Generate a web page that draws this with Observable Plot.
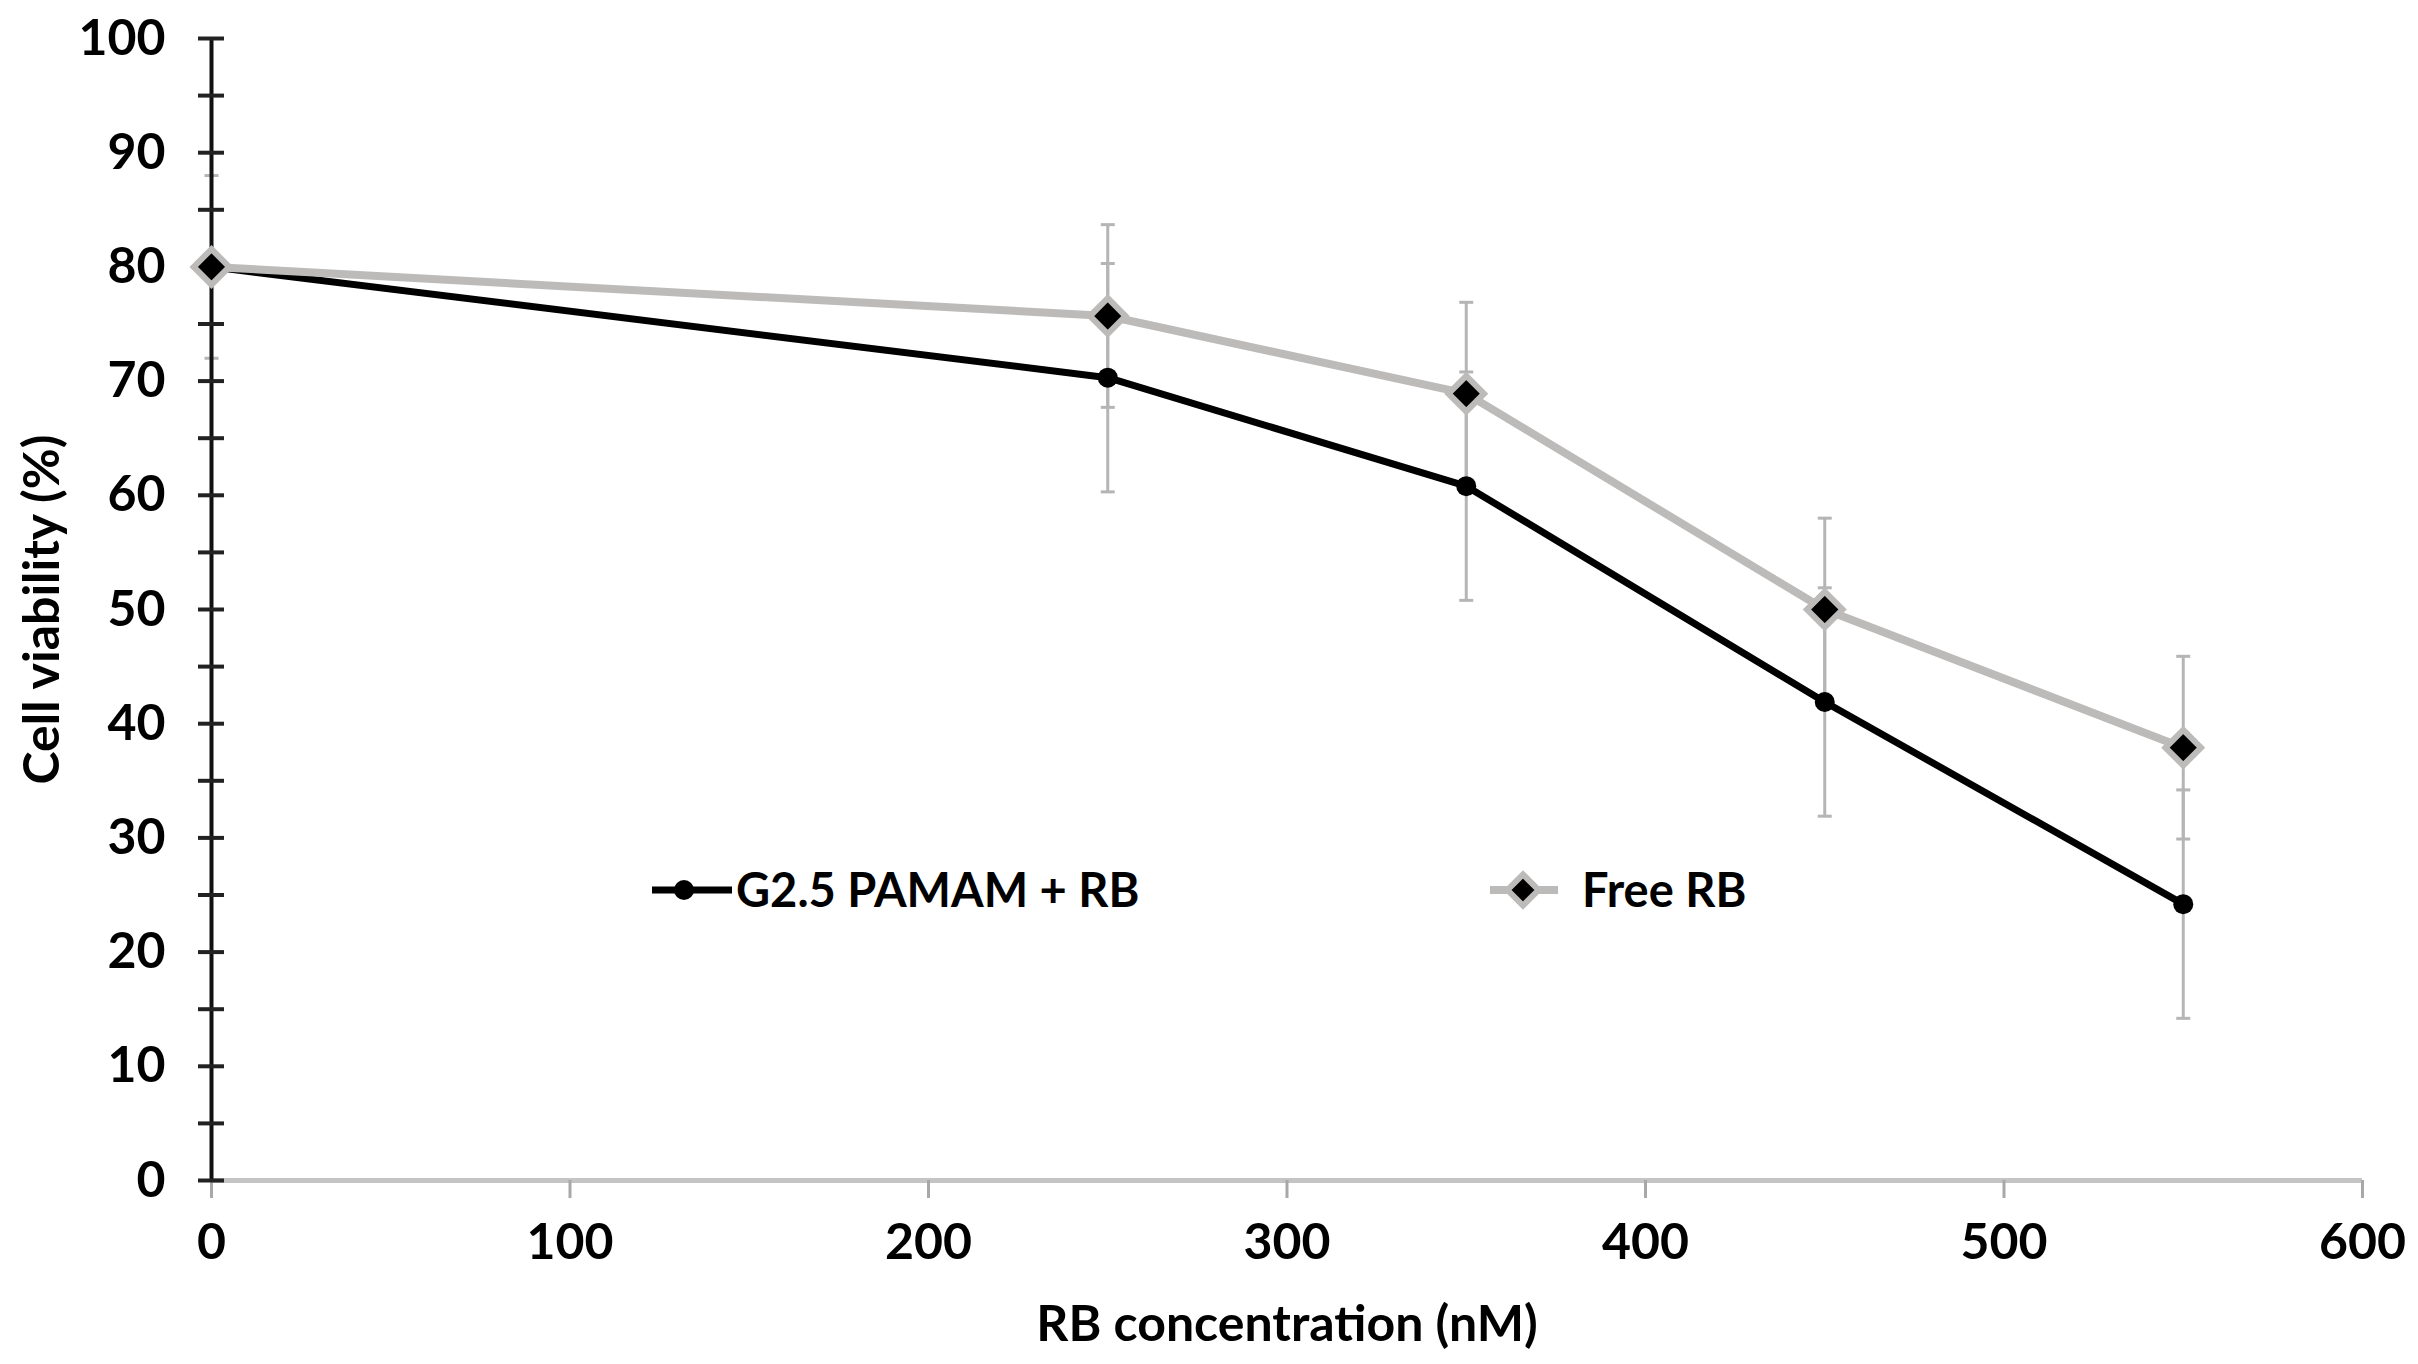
<!DOCTYPE html>
<html>
<head>
<meta charset="utf-8">
<script src="https://cdn.jsdelivr.net/npm/d3@7"></script>
<script src="https://cdn.jsdelivr.net/npm/@observablehq/plot@0.6"></script>
<style>
  body { margin: 0; background: #fff; }
  #chart { position: relative; width: 2418px; height: 1364px; }
  #legend { position: absolute; left: 0; top: 0; pointer-events: none; }
</style>
</head>
<body>
<div id="chart"></div>
<script>
const concentrations = [0, 250, 350, 450, 550]
const pamamViability = [80, 70.3, 60.8, 41.9, 24.2]
const pamamError = [10, 10, 10, 10, 10]
const freeViability = [80, 75.7, 68.9, 50, 37.9]
const freeError = [8, 8, 8, 8, 8]
const xTicks = [0, 100, 200, 300, 400, 500, 600]
const yTicks = [0, 10, 20, 30, 40, 50, 60, 70, 80, 90, 100]
const yMinorTicks = d3.range(0, 101, 5)

const pamamLabel = 'G2.5 PAMAM + RB'
const freeLabel = 'Free RB'

const lineGray = '#bdbbba'
const errGray = '#b5b5b5'

const pamam = concentrations.map((c, i) => ({x: c, y: pamamViability[i], lo: pamamViability[i] - pamamError[i], hi: pamamViability[i] + pamamError[i]}))
const free = concentrations.map((c, i) => ({x: c, y: freeViability[i], lo: freeViability[i] - freeError[i], hi: freeViability[i] + freeError[i]}))

// short horizontal cap for the error bars
const capSymbol = {
  draw(context) {
    context.moveTo(-7, 0)
    context.lineTo(7, 0)
  }
}

const font = 'Lato, "Open Sans", sans-serif'

let chart = Plot.plot({
  width: 2418,
  height: 1364,
  marginLeft: 211,
  marginRight: 56,
  marginTop: 38,
  marginBottom: 184,
  style: {fontFamily: font, fontSize: '50px', fontWeight: 700, color: '#000', background: '#fff'},
  x: {domain: [0, 600]},
  y: {domain: [0, 100]},
  marks: [
    // error bars
    Plot.ruleX(free, {x: 'x', y1: 'lo', y2: 'hi', stroke: errGray, strokeWidth: 3}),
    Plot.ruleX(pamam, {x: 'x', y1: 'lo', y2: 'hi', stroke: errGray, strokeWidth: 3}),
    Plot.dot(free, {x: 'x', y: 'lo', symbol: capSymbol, stroke: errGray, strokeWidth: 3}),
    Plot.dot(free, {x: 'x', y: 'hi', symbol: capSymbol, stroke: errGray, strokeWidth: 3}),
    Plot.dot(pamam, {x: 'x', y: 'lo', symbol: capSymbol, stroke: errGray, strokeWidth: 3}),
    Plot.dot(pamam, {x: 'x', y: 'hi', symbol: capSymbol, stroke: errGray, strokeWidth: 3}),
    // x axis line and ticks
    Plot.ruleY([0], {stroke: '#c4c4c4', strokeWidth: 5}),
    Plot.axisX({ticks: xTicks, tickSize: 18, tickFormat: () => '', stroke: '#a8a8a8', strokeWidth: 3, label: null}),
    Plot.axisX({ticks: xTicks, tickSize: 0, tickPadding: 43, fontSize: 50, fill: '#000',
      label: 'RB concentration (nM)', labelAnchor: 'center', labelOffset: 160, labelArrow: false}),
    // y axis line and crossing ticks
    Plot.ruleX([0], {stroke: '#111', strokeWidth: 4}),
    Plot.axisY({ticks: yMinorTicks, tickSize: 26, dx: 13, tickFormat: () => '', stroke: '#222', strokeWidth: 4, label: null}),
    Plot.axisY({ticks: yTicks, tickSize: 0, tickPadding: 46, fontSize: 50, fill: '#000',
      label: 'Cell viability (%)', labelAnchor: 'center', labelOffset: 188, labelArrow: false}),
    // series
    Plot.line(pamam, {x: 'x', y: 'y', stroke: '#000', strokeWidth: 7}),
    Plot.dot(pamam, {x: 'x', y: 'y', r: 10, fill: '#000'}),
    Plot.line(free, {x: 'x', y: 'y', stroke: lineGray, strokeWidth: 8}),
    Plot.dot(free, {x: 'x', y: 'y', symbol: 'diamond2', r: 16, fill: '#000', stroke: lineGray, strokeWidth: 6}),
  ],
})

const holder = d3.select('#chart')
holder.append(() => chart)

// legend drawn inside the plot area, like the original
const legend = holder.append('svg')
  .attr('id', 'legend')
  .attr('width', 2418)
  .attr('height', 1364)
  .style('font-family', font)
  .style('font-weight', 700)
  .style('font-size', '47px')

const g1 = legend.append('g')
g1.append('line').attr('x1', 652).attr('x2', 732).attr('y1', 890).attr('y2', 890)
  .attr('stroke', '#000').attr('stroke-width', 7)
g1.append('circle').attr('cx', 684).attr('cy', 890).attr('r', 10).attr('fill', '#000')
g1.append('text').attr('x', 736).attr('y', 890).attr('dy', '0.36em').text(pamamLabel)

const g2 = legend.append('g')
g2.append('line').attr('x1', 1490).attr('x2', 1558).attr('y1', 890).attr('y2', 890)
  .attr('stroke', lineGray).attr('stroke-width', 8)
g2.append('path').attr('transform', 'translate(1523,890)')
  .attr('d', d3.symbol(d3.symbolDiamond2, 14 * 14 * Math.PI)())
  .attr('fill', '#000').attr('stroke', lineGray).attr('stroke-width', 6)
g2.append('text').attr('x', 1582).attr('y', 890).attr('dy', '0.36em').text(freeLabel)
</script>
</body>
</html>
